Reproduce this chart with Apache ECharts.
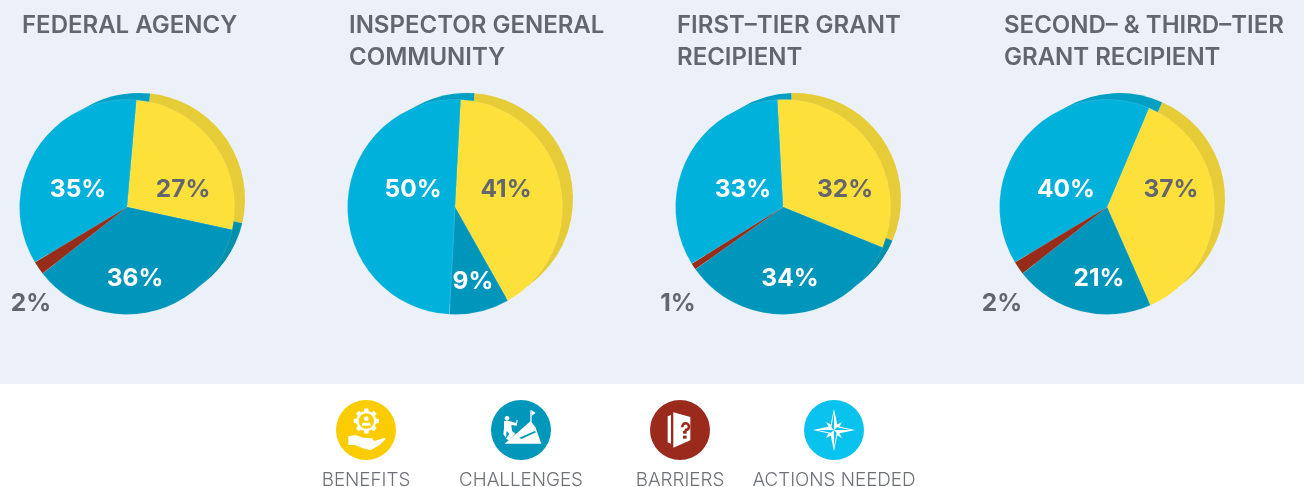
<!DOCTYPE html>
<html>
<head>
<meta charset="utf-8">
<title>Perspectives</title>
<script src="https://cdn.jsdelivr.net/npm/echarts@6/dist/echarts.min.js"></script>
<style>
  html, body { margin: 0; padding: 0; background: #fff; }
  #chart { width: 1304px; height: 487px; }
</style>
</head>
<body>
<div id="chart"></div>
<script>
// data, one value per panel
const panels = ['FEDERAL AGENCY', 'INSPECTOR GENERAL\nCOMMUNITY', 'FIRST\u2013TIER GRANT\nRECIPIENT', 'SECOND\u2013 & THIRD\u2013TIER\nGRANT RECIPIENT'];
const categories = ['BENEFITS', 'CHALLENGES', 'BARRIERS', 'ACTIONS NEEDED'];
const benefits = [27, 41, 32, 37];
const challenges = [36, 9, 34, 21];
const barriers = [2, 0, 1, 2];
const actionsNeeded = [35, 50, 33, 40];

// layout
const titleLeft = [22, 349, 677, 1004];
const pieCenterX = [127, 455, 783, 1107];
const pieCenterY = 207;
const pieRadius = 107.5;
const backOffset = [12, -8];
const startAngles = [85, 87, 93, 67];
const legendX = [366, 521, 680, 834];
const legendY = 430;

// label centres per panel, in category order
const labelPos = [
  [[183, 190], [135, 279], [31, 304], [78, 190]],
  [[506, 190], [473, 282], null, [413, 190]],
  [[845, 190], [790, 279], [678, 304], [743, 190]],
  [[1171, 190], [1099, 279], [1002, 304], [1066, 190]]
];

const frontColors = ['#FDE03A', '#0095BA', '#962C19', '#00B1DB'];
const backColors = ['#E6CC36', '#0090A9', '#7E2515', '#00A0C4'];
const labelColors = ['#63666E', '#fff', '#63666E', '#fff'];
const iconColors = ['#FBCD00', '#0097BA', '#9A2B1C', '#0AC2EE'];
const legendIconBg = '#fff';
const grey = '#63666E';

function panelData(i, colors, withLabel) {
  const values = [benefits[i], challenges[i], barriers[i], actionsNeeded[i]];
  const out = [];
  values.forEach((v, k) => {
    if (!v) return;
    out.push({
      name: categories[k],
      value: v,
      catIndex: k,
      itemStyle: { color: colors[k] },
      label: withLabel ? { color: labelColors[k] } : undefined
    });
  });
  return out;
}

const series = [];
panels.forEach((p, i) => {
  // darker copy sits behind and gives the tilted edge
  series.push({
    type: 'pie',
    silent: true,
    z: 2,
    radius: [0, 106],
    center: [pieCenterX[i] + backOffset[0], pieCenterY + backOffset[1]],
    startAngle: startAngles[i] - 1,
    label: { show: false },
    labelLine: { show: false },
    emphasis: { disabled: true },
    data: panelData(i, backColors, false)
  });
  const front = panelData(i, frontColors, true);
  series.push({
    type: 'pie',
    silent: true,
    z: 3,
    radius: [0, pieRadius],
    center: [pieCenterX[i], pieCenterY],
    startAngle: startAngles[i],
    avoidLabelOverlap: false,
    itemStyle: { borderColor: 'rgba(255,255,255,0.25)', borderWidth: 0.5 },
    label: {
      show: true,
      position: 'inside',
      formatter: '{c}%',
      fontFamily: 'Inter',
      fontSize: 24.5,
      fontWeight: 700
    },
    labelLine: { show: false },
    labelLayout: (params) => {
      const pos = labelPos[i][front[params.dataIndex].catIndex];
      return { x: pos[0], y: pos[1], align: 'center', verticalAlign: 'middle' };
    },
    emphasis: { disabled: true },
    data: front
  });
});

const poly = (pts, fill, ox, oy) => ({
  type: 'polygon',
  z: 5,
  silent: true,
  shape: { points: pts.map((q) => [ox + q[0] / 3, oy + q[1] / 3]) },
  style: { fill: fill }
});
const dot = (x, y, r, fill, ox, oy) => ({
  type: 'circle',
  z: 5,
  silent: true,
  shape: { cx: ox + x / 3, cy: oy + y / 3, r: r / 3 },
  style: { fill: fill }
});

function gearPoints(cx, cy, rOut, rIn, teeth) {
  const pts = [];
  const step = (Math.PI * 2) / teeth;
  for (let t = 0; t < teeth; t++) {
    const a = t * step;
    [[-0.32, rIn], [-0.2, rOut], [0.2, rOut], [0.32, rIn]].forEach((o) => {
      pts.push([cx + Math.cos(a + o[0] * step) * o[1], cy + Math.sin(a + o[0] * step) * o[1]]);
    });
  }
  return pts;
}

// legend badges, drawn in 3x crop units with the crop corner as origin
function iconBenefits(ox, oy) {
  const c = iconColors[0];
  return [
    poly(gearPoints(106, 78, 38, 30, 8), legendIconBg, ox, oy),
    dot(106, 78, 23, c, ox, oy),
    dot(106, 71, 7, legendIconBg, ox, oy),
    poly([[92, 92], [95, 83], [117, 83], [120, 92]], legendIconBg, ox, oy),
    poly([[52, 124], [74, 120], [96, 128], [124, 130], [128, 137], [110, 140], [138, 136], [160, 128], [164, 132], [146, 150], [118, 166], [96, 160], [72, 150], [52, 150]], legendIconBg, ox, oy)
  ];
}
function iconChallenges(ox, oy) {
  const c = iconColors[1];
  return [
    poly([[56, 146], [100, 108], [134, 78], [148, 96], [166, 146]], legendIconBg, ox, oy),
    poly([[100, 128], [146, 108], [150, 112], [106, 132]], c, ox, oy),
    poly([[133, 46], [137, 46], [137, 80], [133, 80]], legendIconBg, ox, oy),
    poly([[137, 46], [149, 54], [137, 62]], legendIconBg, ox, oy),
    dot(63, 70, 7, legendIconBg, ox, oy),
    poly([[54, 78], [70, 78], [90, 84], [92, 74], [95, 76], [92, 92], [76, 90], [78, 108], [88, 116], [70, 136], [60, 132], [70, 116], [62, 108], [60, 128], [52, 118], [54, 100]], legendIconBg, ox, oy)
  ];
}
function iconBarriers(ox, oy) {
  const c = iconColors[2];
  return [
    poly([[68, 64], [78, 60], [78, 146], [68, 142]], legendIconBg, ox, oy),
    poly([[85, 52], [136, 66], [136, 136], [85, 158]], legendIconBg, ox, oy),
    {
      type: 'arc',
      z: 6,
      silent: true,
      shape: { cx: ox + 122 / 3, cy: oy + 95 / 3, r: 10 / 3, startAngle: Math.PI * 0.95, endAngle: Math.PI * 2.6 },
      style: { stroke: c, lineWidth: 2.6, fill: 'none' }
    },
    poly([[114, 108], [125, 108], [125, 116], [114, 116]], c, ox, oy),
    poly([[114, 122], [125, 122], [125, 131], [114, 131]], c, ox, oy)
  ];
}
function iconActions(ox, oy) {
  const c = iconColors[3];
  const x = 105, y = 105;
  return [
    poly([[x - 24, y - 24], [x - 6, y - 14], [x - 14, y - 6]], legendIconBg, ox, oy),
    poly([[x + 24, y - 24], [x + 6, y - 14], [x + 14, y - 6]], legendIconBg, ox, oy),
    poly([[x - 24, y + 24], [x - 6, y + 14], [x - 14, y + 6]], legendIconBg, ox, oy),
    poly([[x + 24, y + 24], [x + 6, y + 14], [x + 14, y + 6]], legendIconBg, ox, oy),
    poly([[x, y - 63], [x + 11, y - 11], [x + 63, y], [x + 11, y + 11], [x, y + 63], [x - 11, y + 11], [x - 63, y], [x - 11, y - 11]], legendIconBg, ox, oy),
    poly([[x, y - 50], [x - 8, y - 9], [x, y]], c, ox, oy),
    poly([[x + 50, y], [x + 9, y - 8], [x, y]], c, ox, oy),
    poly([[x, y + 50], [x + 8, y + 9], [x, y]], c, ox, oy),
    poly([[x - 50, y], [x - 9, y + 8], [x, y]], c, ox, oy)
  ];
}
const iconMakers = [iconBenefits, iconChallenges, iconBarriers, iconActions];

const graphicEls = [
  {
    type: 'rect',
    z: 0,
    silent: true,
    shape: { x: 0, y: 0, width: 1304, height: 384 },
    style: { fill: '#ECF1F9' }
  }
];
categories.forEach((name, k) => {
  graphicEls.push({
    type: 'circle',
    z: 4,
    silent: true,
    shape: { cx: legendX[k], cy: legendY, r: 30 },
    style: { fill: iconColors[k] }
  });
  iconMakers[k](legendX[k] - 35, legendY - 35).forEach((el) => graphicEls.push(el));
  graphicEls.push({
    type: 'text',
    z: 5,
    silent: true,
    x: legendX[k],
    y: 480,
    style: {
      text: name,
      align: 'center',
      verticalAlign: 'middle',
      fill: '#6E7077',
      fontFamily: 'Inter',
      fontSize: 18.8,
      fontWeight: 300
    }
  });
});

const chart = echarts.init(document.getElementById('chart'), null, { renderer: 'canvas' });
chart.setOption({
  animation: false,
  backgroundColor: '#fff',
  title: panels.map((p, i) => ({
    text: p,
    left: titleLeft[i],
    top: 10,
    padding: 0,
    textStyle: {
      color: grey,
      fontFamily: 'Inter',
      fontSize: 24,
      fontWeight: 600,
      lineHeight: 32
    }
  })),
  graphic: { elements: graphicEls },
  series: series
});
</script>
</body>
</html>
